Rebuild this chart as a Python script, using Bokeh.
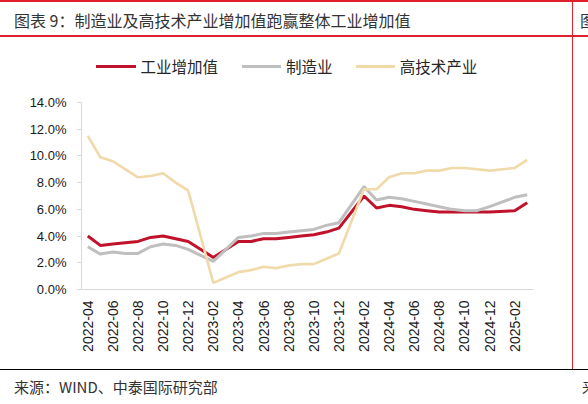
from bokeh.plotting import figure
from bokeh.layouts import column, row
from bokeh.models import (Range1d, FixedTicker, PrintfTickFormatter, ColumnDataSource, Div)
from bokeh.embed import file_html
from bokeh.resources import INLINE
import math

# ---------------- data ----------------
months = [
    "2022-04", "2022-05", "2022-06", "2022-07", "2022-08", "2022-09", "2022-10", "2022-11", "2022-12",
    "2023-01", "2023-02", "2023-03", "2023-04", "2023-05", "2023-06", "2023-07", "2023-08", "2023-09",
    "2023-10", "2023-11", "2023-12",
    "2024-01", "2024-02", "2024-03", "2024-04", "2024-05", "2024-06", "2024-07", "2024-08", "2024-09",
    "2024-10", "2024-11", "2024-12",
    "2025-01", "2025-02", "2025-03",
]
# January has no separate release (Jan-Feb combined)
data_months = [m for m in months if not m.endswith("-01")]

industry = [4.0, 3.3, 3.4, 3.5, 3.6, 3.9, 4.0, 3.8, 3.6,
            2.4, 3.0, 3.6, 3.6, 3.8, 3.8, 3.9, 4.0, 4.1, 4.3, 4.6,
            7.0, 6.1, 6.3, 6.2, 6.0, 5.9, 5.8, 5.8, 5.8, 5.8, 5.8,
            5.9, 6.5]
manufacturing = [3.2, 2.65, 2.8, 2.7, 2.7, 3.2, 3.4, 3.3, 3.0,
                 2.1, 3.0, 3.9, 4.0, 4.2, 4.2, 4.3, 4.4, 4.5, 4.8, 5.0,
                 7.7, 6.7, 6.9, 6.8, 6.6, 6.4, 6.2, 6.0, 5.9, 5.9, 6.2,
                 6.9, 7.1]
hightech = [11.5, 9.9, 9.6, 9.0, 8.4, 8.5, 8.7, 8.0, 7.4,
            0.5, 0.9, 1.3, 1.45, 1.7, 1.6, 1.8, 1.9, 1.9, 2.3, 2.7,
            7.5, 7.5, 8.4, 8.7, 8.7, 8.9, 8.9, 9.1, 9.1, 9.0, 8.9,
            9.1, 9.7]

series_names = ["工业增加值", "制造业", "高技术产业"]
y_ticks = [0, 2, 4, 6, 8, 10, 12, 14]

title_text = "图表 9：制造业及高技术产业增加值跑赢整体工业增加值"
source_text = "来源：WIND、中泰国际研究部"
next_title_text = "图"
next_source_text = "来"

# ---------------- styles ----------------
RED = "#C0122A"
GRAY = "#BFBFBF"
TAN = "#F0DAAA"
AXIS = "#D9D9D9"
RULE_RED = "#E0202A"
CJK = "'Noto Sans CJK SC', 'Noto Sans', sans-serif"

PW, PH = 588, 404
HDR_H = 83
MAIN_W, MAIN_H = 571, 281
FTR_H = PH - HDR_H - MAIN_H
VX = 572.5   # vertical rule x (page px)


def box(left, top, w, h, color):
    return (f'<div style="position:absolute;left:{left}px;top:{top}px;width:{w}px;'
            f'height:{h}px;background:{color};"></div>')


def txt(left, cy, s, size, color, lh=24):
    return (f'<div style="position:absolute;left:{left}px;top:{cy - lh / 2}px;height:{lh}px;'
            f'line-height:{lh}px;white-space:nowrap;font-family:{CJK};font-size:{size}px;'
            f'color:{color};">{s}</div>')


def wrap(w, h, inner):
    return (f'<div style="position:relative;width:{w}px;height:{h}px;overflow:hidden;'
            f'background:white;margin:0;padding:0;">{inner}</div>')


# ---------------- header: title, rules, legend ----------------
hdr_parts = [
    box(0, 0.3, PW, 1.5, RULE_RED),
    txt(14, 20, title_text, 16, "#333333"),
    txt(580, 20, next_title_text, 16, "#333333"),
    box(0, 35.3, PW, 1.5, RULE_RED),
    box(VX - 0.75, 0, 1.5, HDR_H, RULE_RED),
]
legend_colors = [RED, GRAY, TAN]
legend_x = [96.4, 241.8, 355.5]
for name, col, lx in zip(series_names, legend_colors, legend_x):
    hdr_parts.append(box(lx, 64.5, 39.3, 3, col))
    hdr_parts.append(txt(lx + 44.2, 66, name, 15.5, "#262626"))
header = Div(text=wrap(PW, HDR_H, "".join(hdr_parts)), width=PW, height=HDR_H, margin=0)

# ---------------- main chart ----------------
x_idx = [months.index(m) for m in data_months]
p = figure(width=MAIN_W, height=MAIN_H, x_range=Range1d(-0.5, len(months) - 0.5),
           y_range=Range1d(0, 14), output_backend="svg", toolbar_location=None,
           min_border_left=81, min_border_right=38, min_border_top=19, min_border_bottom=75)
p.outline_line_color = None
p.grid.grid_line_color = None
p.background_fill_color = "white"
p.border_fill_color = "white"

src = ColumnDataSource(dict(x=x_idx, ind=industry, man=manufacturing, ht=hightech))
p.line("x", "ind", source=src, line_color=RED, line_width=3)
p.line("x", "man", source=src, line_color=GRAY, line_width=3)
p.line("x", "ht", source=src, line_color=TAN, line_width=2.6)

ya = p.yaxis[0]
ya.ticker = FixedTicker(ticks=y_ticks)
ya.formatter = PrintfTickFormatter(format="%.1f%%")
ya.axis_line_color = AXIS
ya.major_tick_line_color = AXIS
ya.major_tick_in = 0
ya.major_tick_out = 4
ya.minor_tick_line_color = None
ya.major_label_standoff = 11
ya.major_label_text_font = "Liberation Sans"
ya.major_label_text_font_size = "13px"
ya.major_label_text_color = "#1a1a1a"

xa = p.xaxis[0]
xa.ticker = FixedTicker(ticks=list(range(0, len(months), 2)))
xa.major_label_overrides = {i: months[i] for i in range(0, len(months), 2)}
xa.axis_line_color = AXIS
xa.major_tick_line_color = None
xa.major_tick_in = 0
xa.major_tick_out = 0
xa.minor_tick_line_color = None
xa.major_label_orientation = math.pi / 2
xa.major_label_standoff = 11
xa.major_label_text_font = "Liberation Sans"
xa.major_label_text_font_size = "14px"
xa.major_label_text_color = "#1a1a1a"

# right strip carrying the vertical rule beside the chart
STRIP_W = PW - MAIN_W
strip = Div(text=wrap(STRIP_W, MAIN_H, box(VX - 0.75 - MAIN_W, 0, 1.5, MAIN_H, RULE_RED)),
            width=STRIP_W, height=MAIN_H, margin=0)

# ---------------- footer ----------------
ftr_y0 = HDR_H + MAIN_H
ftr_parts = [
    box(VX - 0.75, 0, 1.5, 369.3 - ftr_y0, RULE_RED),
    box(0, 369.3 - ftr_y0 - 0.75, PW, 1.5, "#000000"),
    txt(14, 386.7 - ftr_y0, source_text, 15, "#333333"),
    txt(582, 386.7 - ftr_y0, next_source_text, 15, "#333333"),
]
footer = Div(text=wrap(PW, FTR_H, "".join(ftr_parts)), width=PW, height=FTR_H, margin=0)

layout = column(header, row(p, strip, spacing=0), footer, spacing=0)

open("out.html", "w").write(file_html(layout, INLINE))
